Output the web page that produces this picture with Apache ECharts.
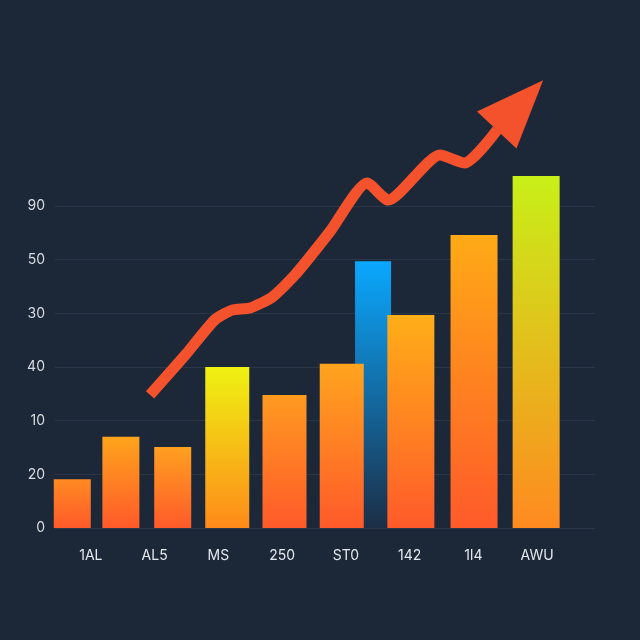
<!DOCTYPE html>
<html>
<head>
<meta charset="utf-8">
<script src="https://cdn.jsdelivr.net/npm/echarts@6/dist/echarts.min.js"></script>
<style>
html,body{margin:0;padding:0;background:#1c2838;}
#chart{width:640px;height:640px;}
</style>
</head>
<body>
<div id="chart"></div>
<script>
// ---- data ----
var xLabels = ['1AL', 'AL5', 'MS', '250', 'ST0', '142', '1I4', 'AWU'];
var yTickLabels = ['0', '20', '10', '40', '30', '50', '90'];
// three groups of orange bars (narrow, medium, wide)
var barXA = [0.32, 1.22, 2.18];
var barValuesA = [0.91, 1.70, 1.51];
var barXB = [3.19, 4.25, 5.31];
var barValuesB = [3.00, 2.48, 3.06];
var barXC = [6.59, 7.76, 8.91];
var barValuesC = [3.97, 5.46, 6.56];
var blueX = [5.89];
var blueValues = [4.97];
var trendX = [1.76, 2.41, 2.96, 3.28, 3.61, 4.02, 4.44, 5.09, 5.78, 6.17, 7.13, 7.59, 8.19];
var trendY = [2.48, 3.22, 3.88, 4.06, 4.10, 4.30, 4.71, 5.52, 6.43, 6.11, 6.95, 6.80, 7.42];
var arrowHead = [8.61, 7.88];

// ---- styles ----
var topA = ['#ff8a22', '#ffa41c', '#ffa020'];
var botA = ['#ff5a2a', '#ff5a2a', '#ff5a2a'];
var topB = ['#eef212', '#ff9a20', '#ffa41e'];
var botB = ['#ff8a1a', '#ff5a2a', '#ff5a2a'];
var topC = ['#ffae18', '#ffaa16', '#c8f018'];
var botC = ['#ff5a2a', '#ff5a2a', '#ff8a20'];

function grad(top, bottom) {
  return new echarts.graphic.LinearGradient(0, 0, 0, 1, [
    {offset: 0, color: top}, {offset: 1, color: bottom}
  ]);
}
function makeBars(xs, vals, tops, bots) {
  return xs.map(function (x, i) {
    return {value: [x, vals[i]], itemStyle: {color: grad(tops[i], bots[i])}};
  });
}

var blueData = blueX.map(function (x, i) { return [x, blueValues[i]]; });
var trendData = trendX.map(function (x, i) { return [x, trendY[i]]; });

function hiddenX() { return {gridIndex: 0, type: 'value', min: 0, max: 10, show: false}; }

var chart = echarts.init(document.getElementById('chart'), null, {renderer: 'canvas'});
chart.setOption({
  backgroundColor: '#1c2838',
  animation: false,
  grid: [
    {left: 55, right: 45, top: 206, bottom: 112},
    {left: 59, right: 71, top: 206, bottom: 112}
  ],
  xAxis: [
    hiddenX(), hiddenX(), hiddenX(), hiddenX(),
    {gridIndex: 1, type: 'category', data: xLabels,
     axisLine: {show: false}, axisTick: {show: false}, splitLine: {show: false},
     axisLabel: {color: '#e4e8ee', fontSize: 14, margin: 21, fontFamily: 'Inter, sans-serif'}}
  ],
  yAxis: [
    {gridIndex: 0, type: 'value', min: 0, max: 6, interval: 1,
     axisLine: {show: false}, axisTick: {show: false},
     splitLine: {lineStyle: {color: '#2b3748', width: 1}},
     axisLabel: {color: '#d8dce2', fontSize: 14, margin: 10, fontFamily: 'Inter, sans-serif',
       formatter: function (v) { return yTickLabels[Math.round(v)]; }}},
    {gridIndex: 1, type: 'value', min: 0, max: 6, show: false}
  ],
  series: [
    {type: 'bar', xAxisIndex: 0, yAxisIndex: 0, data: blueData, barWidth: 36, clip: false,
     itemStyle: {color: grad('#0aa8ff', '#1c2e46')}},
    {type: 'bar', xAxisIndex: 1, yAxisIndex: 0, data: makeBars(barXA, barValuesA, topA, botA), barWidth: 37, clip: false},
    {type: 'bar', xAxisIndex: 2, yAxisIndex: 0, data: makeBars(barXB, barValuesB, topB, botB), barWidth: 44, clip: false},
    {type: 'bar', xAxisIndex: 3, yAxisIndex: 0, data: makeBars(barXC, barValuesC, topC, botC), barWidth: 47, clip: false},
    {type: 'line', xAxisIndex: 0, yAxisIndex: 0, data: trendData, smooth: 0.2, symbol: 'none', clip: false,
     lineStyle: {color: '#f4522c', width: 11, cap: 'butt', join: 'round'}},
    {type: 'scatter', xAxisIndex: 0, yAxisIndex: 0, data: [arrowHead], symbol: 'triangle',
     symbolSize: [54, 68], symbolRotate: -43, clip: false,
     itemStyle: {color: '#f4522c', opacity: 1}}
  ]
});
</script>
</body>
</html>
